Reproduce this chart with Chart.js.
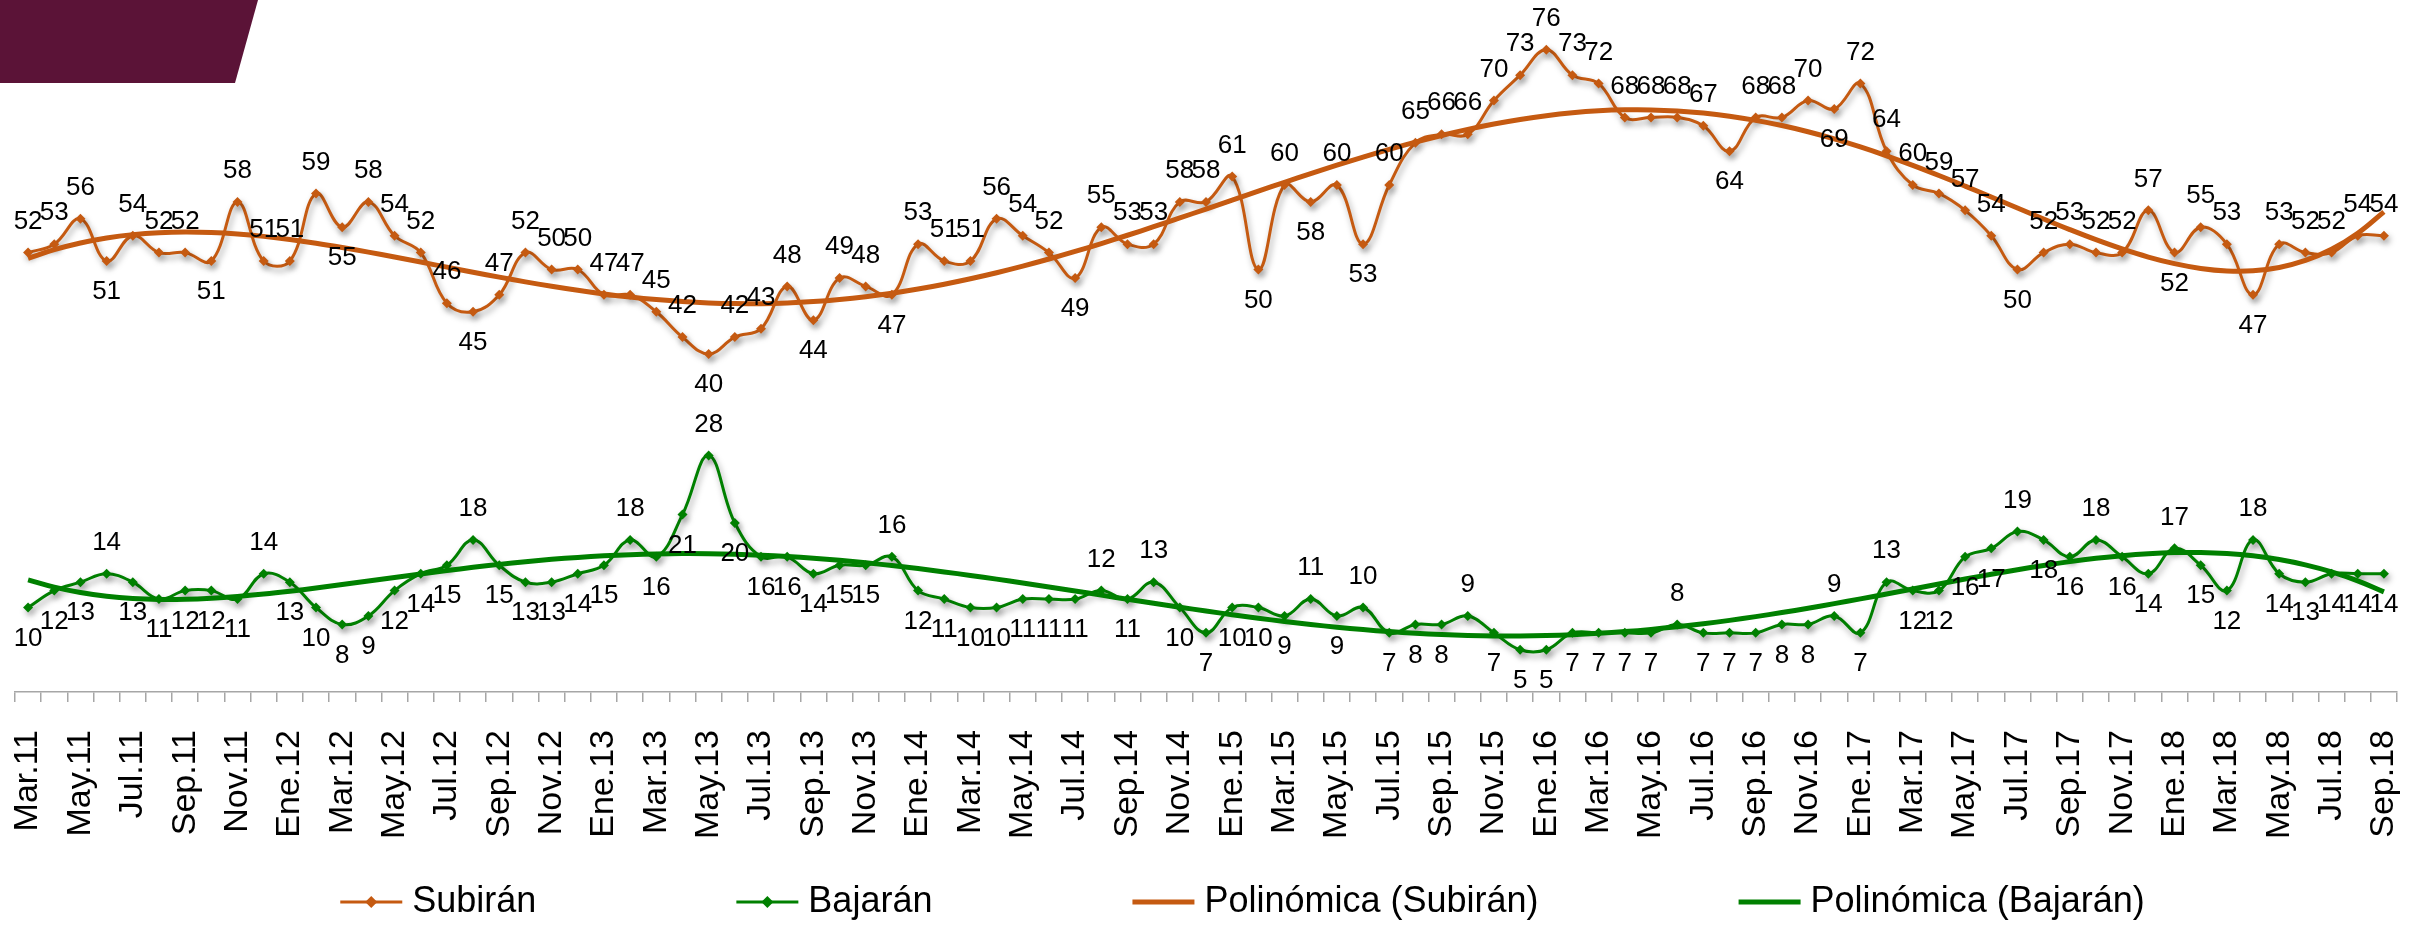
<!DOCTYPE html>
<html>
<head>
<meta charset="utf-8">
<script src="https://cdn.jsdelivr.net/npm/chart.js@4.4.0/dist/chart.umd.min.js"></script>
<style>
  html, body { margin: 0; padding: 0; background: #fff; }
</style>
</head>
<body>
<canvas id="canvas" width="2425" height="931"></canvas>
<script>
// meses (Mar.11 - Sep.18)
var meses = [
  'Mar.11','Abr.11','May.11','Jun.11','Jul.11','Ago.11','Sep.11','Oct.11','Nov.11','Dic.11',
  'Ene.12','Feb.12','Mar.12','Abr.12','May.12','Jun.12','Jul.12','Ago.12','Sep.12','Oct.12','Nov.12','Dic.12',
  'Ene.13','Feb.13','Mar.13','Abr.13','May.13','Jun.13','Jul.13','Ago.13','Sep.13','Oct.13','Nov.13','Dic.13',
  'Ene.14','Feb.14','Mar.14','Abr.14','May.14','Jun.14','Jul.14','Ago.14','Sep.14','Oct.14','Nov.14','Dic.14',
  'Ene.15','Feb.15','Mar.15','Abr.15','May.15','Jun.15','Jul.15','Ago.15','Sep.15','Oct.15','Nov.15','Dic.15',
  'Ene.16','Feb.16','Mar.16','Abr.16','May.16','Jun.16','Jul.16','Ago.16','Sep.16','Oct.16','Nov.16','Dic.16',
  'Ene.17','Feb.17','Mar.17','Abr.17','May.17','Jun.17','Jul.17','Ago.17','Sep.17','Oct.17','Nov.17','Dic.17',
  'Ene.18','Feb.18','Mar.18','Abr.18','May.18','Jun.18','Jul.18','Ago.18','Sep.18'
]

var subiran = [
  52,53,56,51,54,52,52,51,58,51,
  51,59,55,58,54,52,46,45,47,52,50,50,
  47,47,45,42,40,42,43,48,44,49,48,47,
  53,51,51,56,54,52,49,55,53,53,58,58,
  61,50,60,58,60,53,60,65,66,66,70,73,
  76,73,72,68,68,68,67,64,68,68,70,69,
  72,64,60,59,57,54,50,52,53,52,52,57,
  52,55,53,47,53,52,52,54,54
]

var bajaran = [
  10,12,13,14,13,11,12,12,11,14,
  13,10,8,9,12,14,15,18,15,13,13,14,
  15,18,16,21,28,20,16,16,14,15,15,16,
  12,11,10,10,11,11,11,12,11,13,10,7,
  10,10,9,11,9,10,7,8,8,9,7,5,
  5,7,7,7,7,8,7,7,7,8,8,9,
  7,13,12,12,16,17,19,18,16,18,16,14,
  17,15,12,18,14,13,14,14,14
]

var naranja = '#C55A11'
var verde = '#008000'
var fuente = '"Liberation Sans", Arial, sans-serif'

// tendencia polinómica (mínimos cuadrados), como la de Excel
function tendencia(valores, grado) {
  var n = valores.length, h = (n - 1) / 2
  var ts = valores.map(function(v, i) { return (i - h) / h })
  var m = grado + 1
  var A = [], b = []
  for (var r = 0; r < m; r++) {
    A[r] = []
    for (var c = 0; c < m; c++) {
      var s = 0
      ts.forEach(function(t) { s += Math.pow(t, r + c) })
      A[r][c] = s
    }
    var sb = 0
    ts.forEach(function(t, i) { sb += valores[i] * Math.pow(t, r) })
    b[r] = sb
  }
  for (var k = 0; k < m; k++) {
    var p = k
    for (var i = k + 1; i < m; i++) if (Math.abs(A[i][k]) > Math.abs(A[p][k])) p = i
    var tmp = A[k]; A[k] = A[p]; A[p] = tmp
    var tb = b[k]; b[k] = b[p]; b[p] = tb
    for (var i2 = k + 1; i2 < m; i2++) {
      var f = A[i2][k] / A[k][k]
      for (var j = k; j < m; j++) A[i2][j] -= f * A[k][j]
      b[i2] -= f * b[k]
    }
  }
  var coef = []
  for (var k2 = m - 1; k2 >= 0; k2--) {
    var s2 = b[k2]
    for (var j2 = k2 + 1; j2 < m; j2++) s2 -= A[k2][j2] * coef[j2]
    coef[k2] = s2 / A[k2][k2]
  }
  return ts.map(function(t) {
    var y = 0
    for (var q = 0; q < m; q++) y += coef[q] * Math.pow(t, q)
    return y
  })
}

var banner = {
  id: 'banner',
  beforeDraw: function(chart) {
    var ctx = chart.ctx
    ctx.save()
    ctx.fillStyle = '#5B1337'
    ctx.beginPath()
    ctx.moveTo(0, 0); ctx.lineTo(258, 0); ctx.lineTo(235, 83); ctx.lineTo(0, 83)
    ctx.closePath()
    ctx.fill()
    ctx.restore()
  }
}

var sombra = {
  id: 'sombra',
  beforeDatasetDraw: function(chart, args) {
    if (args.index > 1) return
    var ctx = chart.ctx
    ctx.save()
    ctx.shadowColor = 'rgba(0,0,0,0.35)'
    ctx.shadowBlur = 6
    ctx.shadowOffsetX = 2
    ctx.shadowOffsetY = 4
  },
  afterDatasetDraw: function(chart, args) {
    if (args.index > 1) return
    chart.ctx.restore()
  }
}

var etiquetas = {
  id: 'etiquetas',
  afterDatasetsDraw: function(chart) {
    var ctx = chart.ctx
    ctx.save()
    ctx.font = '26px ' + fuente
    ctx.fillStyle = '#000'
    ctx.textAlign = 'center'
    ctx.textBaseline = 'middle'
    ;[0, 1].forEach(function(di) {
      var data = chart.data.datasets[di].data
      chart.getDatasetMeta(di).data.forEach(function(pt, i) {
        var v = data[i]
        var prev = i > 0 ? data[i - 1] : v
        var next = i < data.length - 1 ? data[i + 1] : v
        var abajo = di === 0 ? (v < prev && v < next) : !(v > prev && v > next)
        ctx.fillText(String(v), pt.x, pt.y + (abajo ? 31 : -31))
      })
    })
    ctx.restore()
  }
}

var leyenda = {
  id: 'leyenda',
  afterDraw: function(chart) {
    var ctx = chart.ctx
    ctx.save()
    ctx.font = '36px ' + fuente
    var sw = 62, gap = 10, space = 200
    var items = chart.data.datasets.map(function(ds) {
      return { ds: ds, w: sw + gap + ctx.measureText(ds.label).width }
    })
    var total = items.reduce(function(a, it) { return a + it.w }, 0) + space * (items.length - 1)
    var x = (chart.width - total) / 2 + 30, y = 902
    items.forEach(function(it) {
      var ds = it.ds
      ctx.strokeStyle = ds.borderColor
      ctx.lineWidth = ds.borderWidth
      ctx.beginPath(); ctx.moveTo(x, y); ctx.lineTo(x + sw, y); ctx.stroke()
      if (ds.pointRadius > 0) {
        var r = ds.pointRadius + 1, cx = x + sw / 2
        ctx.fillStyle = ds.borderColor
        ctx.beginPath()
        ctx.moveTo(cx, y - r); ctx.lineTo(cx + r, y); ctx.lineTo(cx, y + r); ctx.lineTo(cx - r, y)
        ctx.closePath(); ctx.fill()
      }
      ctx.fillStyle = '#000'
      ctx.textAlign = 'left'
      ctx.textBaseline = 'middle'
      ctx.fillText(ds.label, x + sw + gap, y)
      x += it.w + space
    })
    ctx.restore()
  }
}

var ctx = document.getElementById('canvas').getContext('2d')
new Chart(ctx, {
  type: 'line',
  data: {
    labels: meses,
    datasets: [
      { label: 'Subirán', data: subiran, borderColor: naranja, backgroundColor: naranja, borderWidth: 3,
        pointStyle: 'rectRot', pointRadius: 5, pointBorderWidth: 0, tension: 0.4, order: 1 },
      { label: 'Bajarán', data: bajaran, borderColor: verde, backgroundColor: verde, borderWidth: 3,
        pointStyle: 'rectRot', pointRadius: 5, pointBorderWidth: 0, tension: 0.4, order: 1 },
      { label: 'Polinómica (Subirán)', data: tendencia(subiran, 6), borderColor: naranja, borderWidth: 5,
        pointRadius: 0, tension: 0.4, order: 0 },
      { label: 'Polinómica (Bajarán)', data: tendencia(bajaran, 6), borderColor: verde, borderWidth: 5,
        pointRadius: 0, tension: 0.4, order: 0 }
    ]
  },
  options: {
    responsive: false,
    animation: false,
    layout: { padding: { left: 15, right: 28, top: 16, bottom: 64 } },
    plugins: { legend: { display: false }, tooltip: { enabled: false } },
    scales: {
      x: {
        offset: true,
        grid: { offset: true, drawOnChartArea: false, tickLength: 10, color: '#A6A6A6', lineWidth: 1.5 },
        border: { color: '#A6A6A6', width: 1.5 },
        ticks: {
          autoSkip: false, minRotation: 90, maxRotation: 90, padding: 28, color: '#000',
          font: { size: 34, family: fuente },
          callback: function(value, index) { return index % 2 === 0 ? meses[index] : '' }
        },
        afterFit: function(scale) { scale.paddingLeft = 0; scale.paddingRight = 0 }
      },
      y: { display: false, min: 0, max: 80 }
    }
  },
  plugins: [banner, sombra, etiquetas, leyenda]
})
</script>
</body>
</html>
